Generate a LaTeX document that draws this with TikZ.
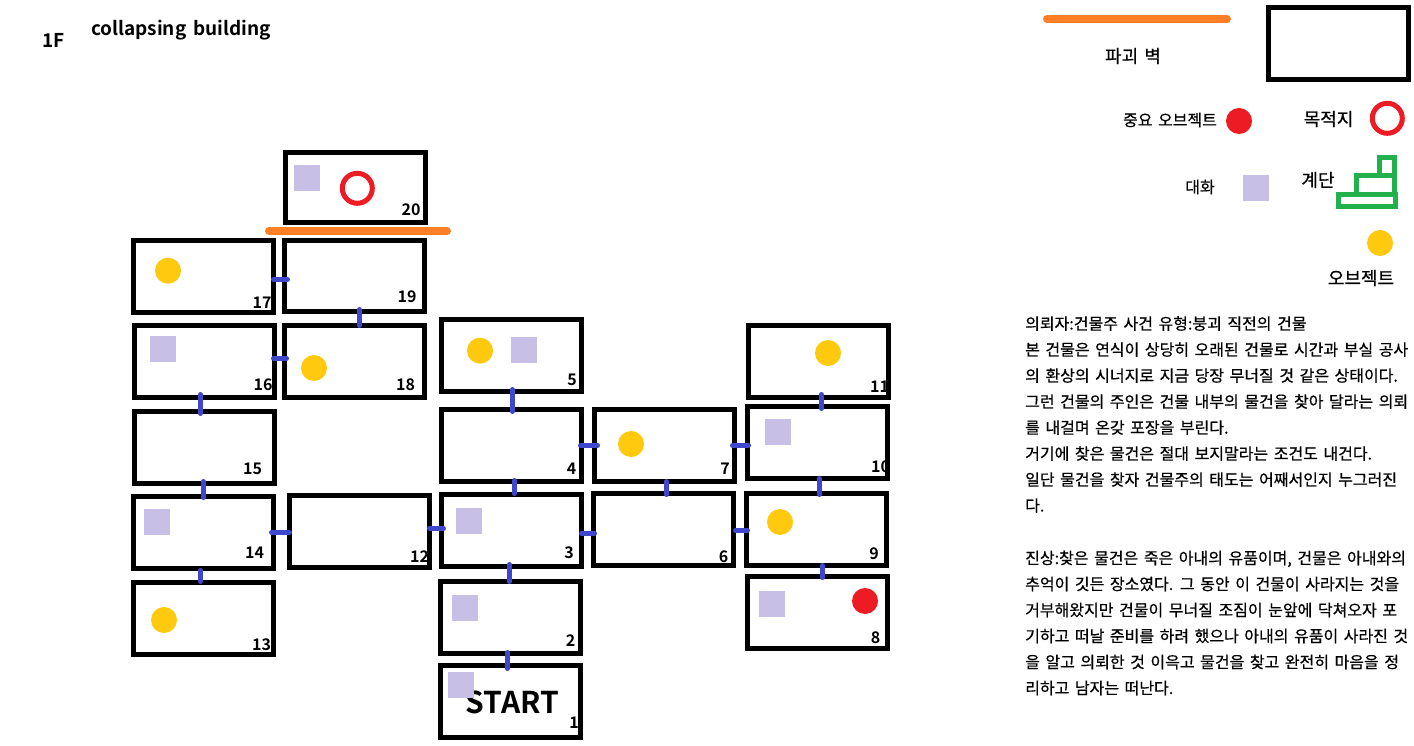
\documentclass[tikz,border=0pt]{standalone}
\usepackage{fontspec}
\usetikzlibrary{calc}
\setmainfont{Noto Sans CJK KR}
\newfontfamily\kr[WordSpace=1.55,FakeBold=0.6]{Noto Sans CJK KR}
\newfontfamily\krb[WordSpace=1.6]{Noto Sans CJK KR Bold}
\definecolor{wallorange}{HTML}{FF7F27}
\definecolor{doorblue}{HTML}{3F48CC}
\definecolor{talkpurple}{HTML}{C8BFE7}
\definecolor{objyellow}{HTML}{FFC90E}
\definecolor{goalred}{HTML}{ED1C24}
\definecolor{stairgreen}{HTML}{22B14C}
\tikzset{
  x=1pt,y=-1pt,
  room/.style={draw=black,line width=5pt,minimum width=140pt,minimum height=72pt,outer sep=0pt,inner sep=0pt},
  door/.style={draw=doorblue,line width=5pt,line cap=round},
  broken/.style={draw=wallorange,line width=8pt,line cap=round},
  talk/.style={fill=talkpurple,draw=none,minimum size=26pt,inner sep=0pt,outer sep=0pt},
  thing/.style={circle,fill=objyellow,draw=none,minimum size=26pt,inner sep=0pt},
  key/.style={circle,fill=goalred,draw=none,minimum size=26pt,inner sep=0pt},
  goal/.style={circle,draw=goalred,line width=5pt,minimum size=30pt,inner sep=0pt},
  stairs/.style={draw=stairgreen,line width=5pt},
  num/.style={inner sep=0pt,font=\krb\fontsize{16}{16}\selectfont},
  lab/.style={inner sep=0pt,font=\kr\fontsize{16}{16}\selectfont},
  labbig/.style={inner sep=0pt,font=\kr\fontsize{18}{18}\selectfont},
  story/.style={inner sep=0pt,anchor=north west,align=left,font=\kr\fontsize{16}{26}\selectfont},
}
\newcommand{\doorv}[6]{\draw[door] ($(#1.south)+(#3,#4)$) -- ($(#2.north)+(#5,#6)$);}
\newcommand{\doorh}[6]{\draw[door] ($(#1.east)+(#3,#4)$) -- ($(#2.west)+(#5,#6)$);}
\begin{document}
\begin{tikzpicture}
\useasboundingbox[fill=white] (0,0) rectangle (1414,746);
% title
\node[inner sep=0pt,font=\krb\fontsize{19}{19}\selectfont] (floor) at (53.5,40) {1F};
\node[inner sep=0pt,font=\krb\fontsize{19}{19}\selectfont] (title) at (181,30) {collapsing building};
% room numbers (walls lie over them)
\node[inner sep=0pt,font=\krb\fontsize{30}{30}\selectfont] (start) at (512.5,702) {START};
\node[num] (n1) at (574,723) {1};
\node[num] (n2) at (570.7,641) {2};
\node[num] (n3) at (569,553) {3};
\node[num] (n4) at (571.5,469) {4};
\node[num] (n5) at (572,380) {5};
\node[num] (n6) at (723.5,556.5) {6};
\node[num] (n7) at (725,469) {7};
\node[num] (n8) at (875.5,637.5) {8};
\node[num] (n9) at (874,553.5) {9};
\node[num] (n10) at (880.5,466.5) {10};
\node[num] (n11) at (879.5,387) {11};
\node[num] (n12) at (419.5,556.5) {12};
\node[num] (n13) at (261.5,645) {13};
\node[num] (n14) at (254.5,552.5) {14};
\node[num] (n15) at (252.5,468.5) {15};
\node[num] (n16) at (263,384.5) {16};
\node[num] (n17) at (262,303) {17};
\node[num] (n18) at (405.5,384.5) {18};
\node[num] (n19) at (407,296.5) {19};
\node[num] (n20) at (411,210) {20};
% rooms
\node[room] (r1) at (510.5,701.5) {};
\node[room] (r2) at (510.5,617.5) {};
\node[room] (r3) at (511.5,530.5) {};
\node[room] (r4) at (511.5,445.5) {};
\node[room] (r5) at (511.5,355.5) {};
\node[room] (r6) at (663.5,529.5) {};
\node[room] (r7) at (664.5,445.5) {};
\node[room] (r8) at (817.5,612.5) {};
\node[room] (r9) at (816.5,529.5) {};
\node[room] (r10) at (817.5,442.5) {};
\node[room] (r11) at (818.5,361.5) {};
\node[room] (r12) at (359.5,531.5) {};
\node[room] (r13) at (203.5,618.5) {};
\node[room] (r14) at (203.5,532.5) {};
\node[room] (r15) at (204.5,447.5) {};
\node[room] (r16) at (204.5,361.5) {};
\node[room] (r17) at (203.5,276.5) {};
\node[room] (r18) at (354.5,361.5) {};
\node[room,minimum height=71pt] (r19) at (354.5,276) {};
\node[room,minimum height=70pt] (r20) at (355.5,187.5) {};
\node[room] (keyroom) at (1338.5,43.5) {};
% doors
\doorh{r17}{r19}{0}{2.8}{3}{3.3}
\doorv{r19}{r18}{4.8}{-2}{4.8}{0}
\doorh{r16}{r18}{-1}{-3.2}{2}{-3.2}
\doorv{r16}{r15}{-4.2}{-3}{-4.2}{2}
\doorv{r15}{r14}{-1.2}{-2}{-0.2}{1}
\doorv{r14}{r13}{-3.2}{2}{-3.2}{-1}
\doorh{r14}{r12}{-2}{-0.2}{0}{0.8}
\doorh{r12}{r3}{0}{-3.2}{2}{-2.2}
\doorv{r5}{r4}{0.8}{-2}{0.8}{2}
\doorv{r4}{r3}{2.8}{-1}{2.8}{-1}
\doorv{r3}{r2}{-2.2}{-2}{-1.2}{0}
\doorv{r2}{r1}{-3.2}{-1}{-3.2}{3}
\doorh{r4}{r7}{-1}{-0.2}{3}{-0.2}
\doorh{r3}{r6}{0}{2.8}{1}{3.8}
\doorv{r7}{r6}{1.8}{0}{2.8}{1}
\doorh{r7}{r10}{-2}{-0.2}{1}{2.8}
\doorh{r6}{r9}{2}{0.8}{1}{0.8}
\doorv{r11}{r10}{2.8}{-3}{3.8}{2}
\doorv{r10}{r9}{1.8}{0}{2.8}{1}
\doorv{r9}{r8}{5.8}{0}{4.8}{1}
% broken walls
\coordinate (bw1) at (269,231);
\coordinate (bw2) at (447,231);
\draw[broken] (bw1) -- (bw2);
\coordinate (kw1) at (1047,19);
\coordinate (kw2) at (1227,19);
\draw[broken] (kw1) -- (kw2);
% markers in rooms
\node[talk] (t1) at (461,685) {};
\node[talk] (t2) at (465,608) {};
\node[talk] (t3) at (469,521) {};
\node[talk] (t5) at (524,350) {};
\node[talk] (t8) at (772,604) {};
\node[talk] (t10) at (778,432) {};
\node[talk] (t14) at (157,522) {};
\node[talk] (t16) at (163,349) {};
\node[talk] (t20) at (307,178) {};
\node[thing] (o5) at (480,350.7) {};
\node[thing] (o7) at (631,444) {};
\node[thing] (o9) at (780,522) {};
\node[thing] (o11) at (828,353) {};
\node[thing] (o13) at (164,620) {};
\node[thing] (o17) at (168,270.7) {};
\node[thing] (o18) at (314,368) {};
\node[key] (k8) at (865,601) {};
\node[goal] (g20) at (357.3,188.3) {};
% legend
\node[labbig] (lw) at (1133,56) {파괴 벽};
\node[lab] (lk) at (1170,120) {중요 오브젝트};
\node[key] (kk) at (1239,121) {};
\node[labbig] (lg) at (1328.5,119) {목적지};
\node[goal] (kg) at (1387.3,118.3) {};
\node[lab] (lt) at (1200,187) {대화};
\node[talk] (kt) at (1256,188) {};
\node[labbig] (ls) at (1318,180) {계단};
\draw[stairs] (1338.5,194.5) rectangle (1395.5,206.5);
\draw[stairs] (1356.5,194.5) -- (1356.5,175.5) -- (1394.5,175.5) -- (1394.5,194.5);
\draw[stairs] (1379.5,175.5) -- (1379.5,157.5) -- (1394.5,157.5) -- (1394.5,175.5);
\node[thing] (ko) at (1380,243) {};
\node[labbig] (lo) at (1361,278) {오브젝트};
% story
\node[story] (s1) at (1025,316) {의뢰자:건물주 사건 유형:붕괴 직전의 건물\\
본 건물은 연식이 상당히 오래된 건물로 시간과 부실 공사\\
의 환상의 시너지로 지금 당장 무너질 것 같은 상태이다.\\
그런 건물의 주인은 건물 내부의 물건을 찾아 달라는 의뢰\\
를 내걸며 온갖 포장을 부린다.\\
거기에 찾은 물건은 절대 보지말라는 조건도 내건다.\\
일단 물건을 찾자 건물주의 태도는 어째서인지 누그러진\\
다.};
\node[story] (s2) at (1025,550.5) {진상:찾은 물건은 죽은 아내의 유품이며, 건물은 아내와의\\
추억이 깃든 장소였다. 그 동안 이 건물이 사라지는 것을\\
거부해왔지만 건물이 무너질 조짐이 눈앞에 닥쳐오자 포\\
기하고 떠날 준비를 하려 했으나 아내의 유품이 사라진 것\\
을 알고 의뢰한 것 이윽고 물건을 찾고 완전히 마음을 정\\
리하고 남자는 떠난다.};
\end{tikzpicture}
\end{document}
